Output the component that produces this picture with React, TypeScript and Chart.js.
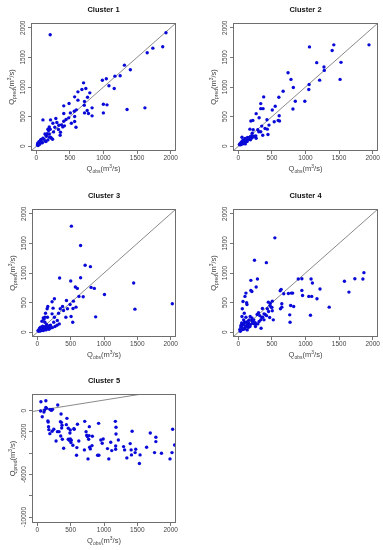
import React, { useEffect, useRef } from "react";
import { Chart, registerables } from "chart.js";
Chart.register(...registerables);

const FONT = "'Liberation Sans', Arial, Helvetica, sans-serif";

// ---- axis ticks / ranges ----
const xTicks = [0, 500, 1000, 1500, 2000];
const yTicks = [0, 500, 1000, 1500, 2000];
const yTickLabels = ["0", "500", "1000", "1500", "2000"];
const yTicks5 = [0, -2000, -4000, -6000, -8000, -10000];
const yTickLabels5 = ["0", "-2000", "", "-6000", "", "-10000"];
const axisRange = [-80, 2080];
const yRange5 = [-10560, 1570];
const oneToOne = [-100, 2100];
const titles = ["Cluster 1", "Cluster 2", "Cluster 3", "Cluster 4", "Cluster 5"];

// ---- data ----
const c1Obs = [206,1931,1882,1735,1651,1617,1351,1400,1312,1248,1170,1160,1081,1042,983,1052,998,998,830,830,776,757,717,796,762,717,713,703,737,678,619,570,619,595,565,590,570,570,521,506,487,408,408,482,442,408,393,418,373,334,329,359,354,290,305,275,246,211,192,182,162,226,211,241,206,172,98,147,128,98,69,59,39,34,15,79,143,172,197,192,256,59,25,20,45,60,90,110,130,150];
const c1Pred = [1882,1916,1679,1656,1578,648,620,1290,1369,1189,1183,975,1020,1138,1115,699,710,563,513,648,552,603,563,901,828,755,693,1070,975,958,918,834,778,614,592,321,501,417,389,563,721,682,552,479,451,423,327,344,361,355,282,237,186,468,400,321,389,445,327,265,214,135,152,118,287,287,445,186,208,135,113,85,79,39,23,73,79,107,152,208,242,51,11,50,30,100,60,120,90,170];

const c2Obs = [1946,1422,1059,1397,1529,1167,1275,1280,1515,1211,1054,1049,740,784,819,667,848,813,990,603,377,333,368,333,549,505,608,613,593,534,426,456,441,363,397,348,309,265,216,186,172,289,304,260,235,211,221,181,152,123,93,74,49,25,15,54,113,142,172,88,64,39,206,265,333,431,132,191,29,103,74,60,80,100,120,140,160,180,200,45,95,130];
const c2Pred = [1711,1711,1677,1615,1416,1411,1337,1280,1128,1116,1043,958,1241,1128,992,929,759,629,759,827,833,720,635,635,674,612,516,425,436,414,448,357,198,187,300,340,482,550,436,425,289,278,244,176,170,153,278,164,142,130,108,85,74,45,28,153,85,108,136,51,40,62,221,136,244,289,142,130,23,40,108,90,70,130,100,150,120,110,180,35,60,80];

const c3Obs = [511,649,717,796,334,501,649,570,600,806,855,1445,1007,624,688,1464,2025,875,541,491,580,535,531,506,452,437,378,393,428,344,319,300,329,256,221,236,221,256,246,197,157,147,123,152,113,98,89,69,113,138,79,49,34,25,59,98,123,172,10,84,147,39,74,128,162,226,265,295,197,20,30,45,55,65,80,90,105,115,130,150,175,190];
const c3Pred = [1791,1463,1130,1107,915,864,921,763,740,757,740,831,638,605,599,390,480,260,525,469,424,401,170,266,396,537,435,367,254,396,322,198,141,565,514,407,311,254,170,119,435,396,322,254,254,220,243,186,170,130,102,85,68,45,56,79,96,107,28,62,85,51,34,56,62,79,96,119,73,15,40,20,70,40,55,30,45,80,40,60,50,90];

const c4Obs = [544,240,417,1870,1855,1735,1580,1647,1353,1216,1171,1083,1103,1049,1093,1074,946,946,892,956,809,789,745,676,637,623,779,824,765,770,647,647,627,505,475,446,490,505,520,466,431,358,382,363,338,284,265,186,186,201,260,230,289,176,201,162,211,113,98,123,128,59,69,88,54,78,113,49,74,103,128,152,39,20,64,93,29,132,172,152,240,309,333,382,44,108,142,255,280,300,320,350,400,420,450,470,500,200,220,250,180,160,130,90,70,60,40];
const c4Pred = [1593,1215,1175,1006,898,904,860,678,424,729,565,898,831,605,605,288,706,904,898,621,661,661,655,650,723,700,452,435,294,170,480,424,396,525,486,508,424,362,209,249,396,401,311,254,68,898,763,876,706,689,141,209,141,266,243,209,153,661,605,497,469,396,520,322,266,209,254,158,130,96,130,85,85,45,45,56,17,40,96,153,141,181,209,209,102,170,186,96,300,330,280,250,300,280,350,450,420,200,180,160,130,110,90,170,60,140,120];

const c5Obs = [54,128,128,138,109,99,49,74,188,207,227,217,306,356,346,360,370,158,163,168,173,188,222,247,301,326,281,351,375,395,365,444,435,464,494,489,464,479,509,494,504,553,602,533,548,622,593,588,711,731,741,751,770,760,775,780,785,795,820,706,825,919,904,923,953,988,973,1052,1072,1101,1116,1170,1180,1180,1175,1175,1215,1294,1309,1343,1393,1407,1412,1422,1467,1476,1531,1541,1639,1694,1778,1778,1758,1862,1990,2020,2030,2059];
const c5Pred = [844,938,313,219,63,-125,-31,-563,125,31,125,63,531,-313,-1031,-1094,-1375,-969,-1063,-1500,-1781,-2156,-1938,-1750,-1969,-1969,-2844,-2375,-2688,-3531,-1625,-719,-1313,-1656,-1813,-2094,-2688,-2781,-2781,-2656,-3000,-1750,-1281,-3250,-1688,-2844,-3469,-4188,-1000,-1969,-2313,-2438,-2688,-4531,-2344,-1500,-3438,-3594,-3281,-3688,-2406,-1188,-4188,-4188,-2750,-2656,-3063,-3563,-4531,-2969,-3750,-1000,-1563,-2188,-3313,-3625,-2750,-3375,-3688,-4438,-3094,-3688,-4156,-1938,-3938,-3625,-4969,-4156,-3438,-2094,-2500,-2906,-3938,-4000,-4531,-3938,-1750,-3219];

// ---- layout (positions only) ----
type Panel = {
  title: string; obs: number[]; pred: number[];
  left: number; top: number; w: number; h: number;
  box: { l: number; t: number; r: number; b: number };
  yMin: number; yMax: number; yT: number[]; yL: string[];
};

const panels: Panel[] = [
  { title: titles[0], obs: c1Obs, pred: c1Pred, left: 0, top: 0, w: 192, h: 180, box: { l: 31, t: 23, r: 176, b: 151 }, yMin: axisRange[0], yMax: axisRange[1], yT: yTicks, yL: yTickLabels },
  { title: titles[1], obs: c2Obs, pred: c2Pred, left: 192, top: 0, w: 191, h: 180, box: { l: 41, t: 23, r: 186, b: 151 }, yMin: axisRange[0], yMax: axisRange[1], yT: yTicks, yL: yTickLabels },
  { title: titles[2], obs: c3Obs, pred: c3Pred, left: 0, top: 180, w: 192, h: 180, box: { l: 32, t: 29, r: 176, b: 157 }, yMin: axisRange[0], yMax: axisRange[1], yT: yTicks, yL: yTickLabels },
  { title: titles[3], obs: c4Obs, pred: c4Pred, left: 192, top: 180, w: 191, h: 180, box: { l: 41, t: 29, r: 186, b: 157 }, yMin: axisRange[0], yMax: axisRange[1], yT: yTicks, yL: yTickLabels },
  { title: titles[4], obs: c5Obs, pred: c5Pred, left: 0, top: 360, w: 192, h: 190, box: { l: 32, t: 34, r: 176, b: 163 }, yMin: yRange5[0], yMax: yRange5[1], yT: yTicks5, yL: yTickLabels5 },
];

type Part = { t: string; s: number; dy: number };
function richText(ctx: CanvasRenderingContext2D, parts: Part[], cx: number, baseY: number) {
  let w = 0;
  for (const p of parts) { ctx.font = `${p.s}px ${FONT}`; w += ctx.measureText(p.t).width; }
  let x = cx - w / 2;
  ctx.textAlign = "left";
  ctx.textBaseline = "alphabetic";
  for (const p of parts) {
    ctx.font = `${p.s}px ${FONT}`;
    ctx.fillText(p.t, x, baseY + p.dy);
    x += ctx.measureText(p.t).width;
  }
}

const xTitleParts: Part[] = [
  { t: "Q", s: 7.5, dy: 0 }, { t: "obs", s: 5, dy: 1.8 }, { t: "(m", s: 7.5, dy: 0 },
  { t: "3", s: 5, dy: -3.2 }, { t: "/s)", s: 7.5, dy: 0 },
];
const yTitleParts: Part[] = [
  { t: "Q", s: 7.5, dy: 0 }, { t: "pred", s: 5, dy: 1.8 }, { t: "(m", s: 7.5, dy: 0 },
  { t: "3", s: 5, dy: -3.2 }, { t: "/s)", s: 7.5, dy: 0 },
];

function PanelChart({ p }: { p: Panel }) {
  const ref = useRef<HTMLCanvasElement>(null);
  useEffect(() => {
    if (!ref.current) return;
    const deco = {
      id: "deco",
      afterDraw(chart: any) {
        const { ctx, chartArea: a, scales } = chart;
        ctx.save();
        ctx.strokeStyle = "#6e6e6e";
        ctx.lineWidth = 1;
        ctx.strokeRect(a.left + 0.5, a.top + 0.5, a.right - a.left - 1, a.bottom - a.top - 1);
        const mx = (a.left + a.right) / 2;
        const my = (a.top + a.bottom) / 2;
        ctx.fillStyle = "#111";
        ctx.font = `bold 7.5px ${FONT}`;
        ctx.textAlign = "center";
        ctx.textBaseline = "middle";
        ctx.fillText(p.title, mx, a.top - 13);
        // rotated y tick labels
        ctx.fillStyle = "#444";
        ctx.font = `6.5px ${FONT}`;
        p.yT.forEach((v, i) => {
          const y = scales.y.getPixelForValue(v);
          ctx.save();
          ctx.translate(a.left - 8, y);
          ctx.rotate(-Math.PI / 2);
          ctx.textAlign = "center";
          ctx.textBaseline = "middle";
          ctx.fillText(p.yL[i], 0, 0);
          ctx.restore();
        });
        // axis titles
        richText(ctx, xTitleParts, mx, a.bottom + 20);
        ctx.save();
        ctx.translate(a.left - 17, my);
        ctx.rotate(-Math.PI / 2);
        richText(ctx, yTitleParts, 0, 0);
        ctx.restore();
        ctx.restore();
      },
    };
    const chart = new Chart(ref.current, {
      type: "scatter",
      data: {
        datasets: [
          {
            data: oneToOne.map((v) => ({ x: v, y: v })),
            showLine: true,
            borderColor: "#8a8a8a",
            borderWidth: 1,
            pointRadius: 0,
            order: 2,
          } as any,
          {
            data: p.obs.map((x, i) => ({ x, y: p.pred[i] })),
            pointRadius: 1.7,
            pointBackgroundColor: "#0a0ad8",
            pointBorderWidth: 0,
            borderWidth: 0,
            order: 1,
          } as any,
        ],
      },
      options: {
        responsive: false,
        animation: false,
        devicePixelRatio: 1,
        layout: { padding: { left: 0, top: p.box.t, right: p.w - p.box.r, bottom: 0 } },
        plugins: { legend: { display: false }, tooltip: { enabled: false }, title: { display: false } },
        scales: {
          x: {
            type: "linear",
            min: axisRange[0],
            max: axisRange[1],
            afterBuildTicks: (s: any) => { s.ticks = xTicks.map((v) => ({ value: v })); },
            afterFit: (s: any) => { s.height = p.h - p.box.b; },
            grid: { drawOnChartArea: false, drawTicks: true, tickLength: 3, color: "#777" },
            border: { display: false },
            ticks: {
              font: { family: FONT, size: 6.5 },
              color: "#444",
              padding: 0,
              maxRotation: 0,
              minRotation: 0,
              autoSkip: false,
              callback: (v: any) => String(v),
            },
          },
          y: {
            type: "linear",
            min: p.yMin,
            max: p.yMax,
            afterBuildTicks: (s: any) => { s.ticks = p.yT.map((v) => ({ value: v })); },
            afterFit: (s: any) => { s.width = p.box.l; },
            grid: { drawOnChartArea: false, drawTicks: true, tickLength: 3, color: "#777" },
            border: { display: false },
            ticks: { display: false },
          },
        },
      } as any,
      plugins: [deco],
    });
    return () => chart.destroy();
  }, [p]);
  return (
    <canvas
      ref={ref}
      width={p.w}
      height={p.h}
      style={{ position: "absolute", left: p.left, top: p.top, width: p.w, height: p.h }}
    />
  );
}

export default function App() {
  return (
    <div style={{ position: "fixed", left: 0, top: 0, width: 383, height: 550, background: "#fff", overflow: "hidden" }}>
      {panels.map((p) => (
        <PanelChart key={p.title} p={p} />
      ))}
    </div>
  );
}
